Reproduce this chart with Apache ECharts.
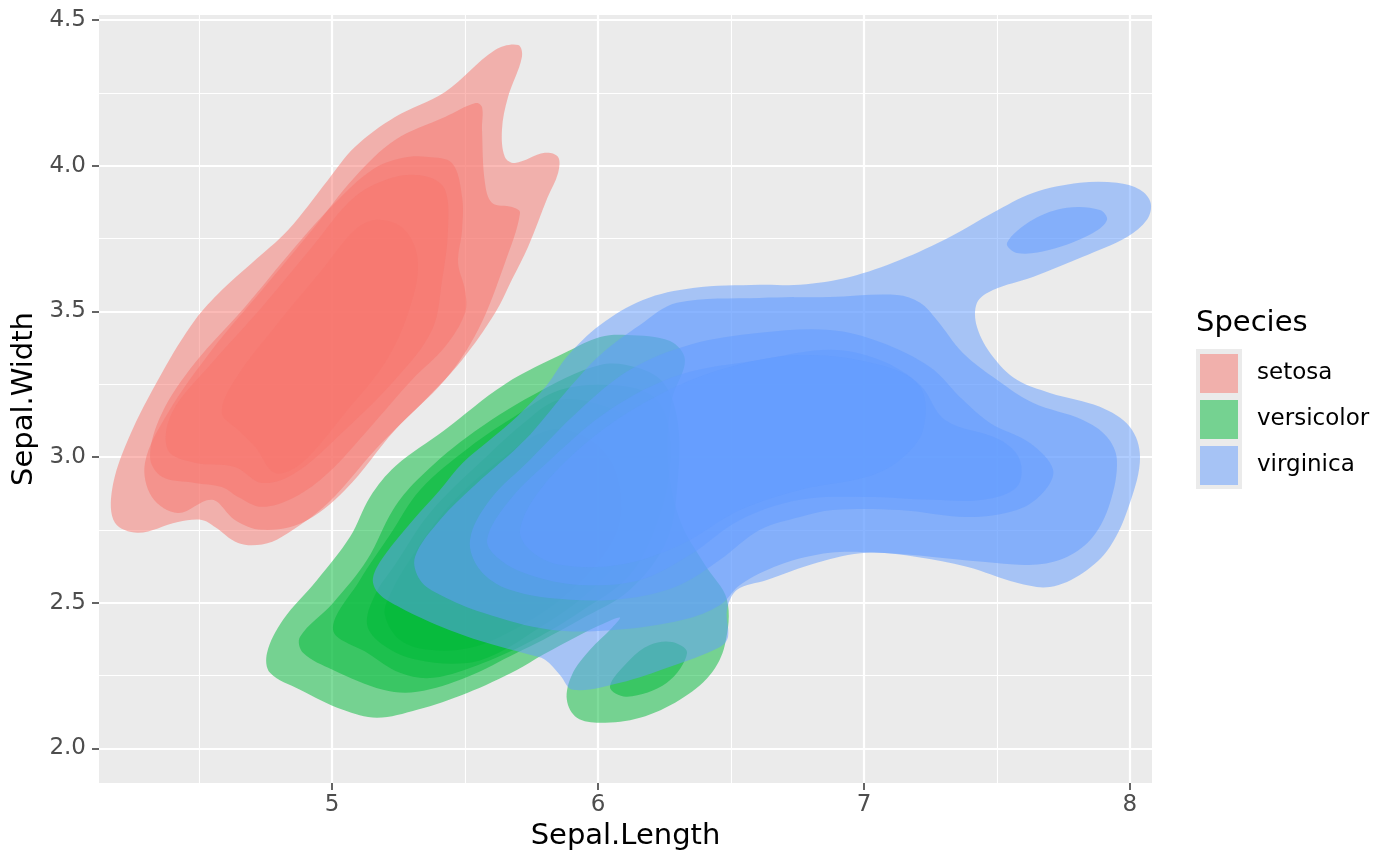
<!DOCTYPE html>
<html><head><meta charset="utf-8">
<script src="https://cdn.jsdelivr.net/npm/echarts@6/dist/echarts.min.js"></script>
<style>html,body{margin:0;padding:0;background:#fff}#c{width:1400px;height:866px}</style>
</head><body><div id="c"></div>
<script>
// ---- data (data units) ----
const species = ['setosa', 'versicolor', 'virginica'];
const speciesColors = ['#F8766D', '#00BA38', '#619CFF'];
const xTicks = [5, 6, 7, 8];
const xMinorTicks = [4.5, 5.5, 6.5, 7.5];
const yTicks = [2.0, 2.5, 3.0, 3.5, 4.0, 4.5];
const yMinorTicks = [2.25, 2.75, 3.25, 3.75, 4.25];

// setosa density contours (outer -> inner)
const setosaL1 = [[5.70,4.414],[5.613,4.397],[5.425,4.253],[5.237,4.167],[5.086,4.064],[4.985,3.951],[4.835,3.779],[4.699,3.666],[4.586,3.573],[4.485,3.47],[4.361,3.289],[4.233,3.059],[4.173,2.887],[4.184,2.774],[4.271,2.74],[4.421,2.777],[4.511,2.784],[4.56,2.76],[4.647,2.705],[4.737,2.70],[4.812,2.726],[4.985,2.842],[5.173,3.035],[5.361,3.206],[5.489,3.333],[5.613,3.494],[5.677,3.61],[5.737,3.721],[5.81,3.89],[5.85,3.975],[5.85,4.03],[5.80,4.044],[5.688,4.009],[5.65,4.03],[5.639,4.123],[5.662,4.236],[5.714,4.373]];
const setosaL2 = [[5.54,4.215],[5.425,4.167],[5.237,4.088],[5.086,3.961],[4.925,3.779],[4.737,3.573],[4.549,3.368],[4.383,3.151],[4.297,2.98],[4.323,2.863],[4.421,2.808],[4.549,2.853],[4.635,2.784],[4.737,2.75],[4.887,2.774],[5.049,2.887],[5.237,3.093],[5.425,3.265],[5.549,3.436],[5.65,3.666],[5.707,3.838],[5.677,3.858],[5.602,3.872],[5.575,3.941],[5.564,4.123],[5.564,4.201]];
const setosaL3 = [[5.361,4.03],[5.451,4.009],[5.489,3.893],[5.489,3.779],[5.474,3.666],[5.50,3.573],[5.50,3.494],[5.425,3.378],[5.301,3.265],[5.135,3.093],[4.985,2.945],[4.861,2.863],[4.737,2.829],[4.647,2.863],[4.586,2.897],[4.485,2.911],[4.361,2.932],[4.316,3.0],[4.361,3.151],[4.485,3.323],[4.673,3.515],[4.861,3.721],[5.011,3.872],[5.15,3.985],[5.263,4.026]];
const setosaL4 = [[5.361,3.961],[5.425,3.917],[5.436,3.779],[5.414,3.608],[5.376,3.436],[5.237,3.265],[5.049,3.093],[4.861,2.945],[4.737,2.911],[4.635,2.966],[4.485,2.98],[4.383,3.024],[4.398,3.151],[4.549,3.323],[4.737,3.515],[4.925,3.721],[5.086,3.893],[5.237,3.961]];
const setosaL5 = [[5.173,3.814],[5.274,3.779],[5.323,3.666],[5.286,3.494],[5.199,3.323],[5.049,3.151],[4.887,2.98],[4.786,2.945],[4.711,3.035],[4.647,3.093],[4.586,3.151],[4.635,3.265],[4.797,3.46],[4.962,3.642],[5.086,3.779]];

// versicolor density contours
const versicolorL1 = [[4.756,2.328],[4.767,2.259],[4.88,2.201],[5.041,2.132],[5.169,2.105],[5.32,2.132],[5.508,2.19],[5.695,2.269],[5.793,2.321],[5.932,2.389],[6.053,2.441],[6.083,2.448],[6.053,2.414],[5.97,2.338],[5.902,2.252],[5.883,2.167],[5.921,2.105],[6.008,2.088],[6.158,2.105],[6.308,2.167],[6.421,2.252],[6.477,2.355],[6.485,2.51],[6.402,2.63],[6.308,2.784],[6.263,2.99],[6.278,3.196],[6.327,3.333],[6.271,3.398],[6.109,3.419],[6.008,3.412],[5.883,3.361],[5.65,3.25],[5.42,3.09],[5.24,2.97],[5.143,2.863],[5.068,2.726],[4.944,2.578],[4.816,2.441]];
const versicolorL2 = [[4.88,2.383],[4.891,2.328],[5.004,2.269],[5.192,2.201],[5.32,2.194],[5.508,2.245],[5.695,2.328],[5.793,2.372],[5.932,2.441],[6.12,2.544],[6.26,2.716],[6.30,2.92],[6.30,3.12],[6.25,3.25],[6.15,3.306],[6.008,3.316],[5.756,3.213],[5.508,3.069],[5.32,2.921],[5.229,2.818],[5.132,2.647],[5.004,2.499]];
const versicolorL2b = [[6.045,2.211],[6.109,2.177],[6.259,2.225],[6.335,2.328],[6.278,2.365],[6.195,2.355],[6.12,2.304]];
const versicolorL3 = [[5.004,2.407],[5.132,2.328],[5.256,2.259],[5.38,2.242],[5.568,2.293],[5.756,2.372],[5.932,2.468],[6.12,2.595],[6.22,2.767],[6.27,2.956],[6.26,3.127],[6.2,3.213],[6.045,3.247],[5.857,3.23],[5.695,3.144],[5.519,3.035],[5.331,2.887],[5.218,2.733],[5.105,2.578]];
const versicolorL4 = [[5.132,2.424],[5.192,2.355],[5.32,2.304],[5.508,2.293],[5.632,2.331],[5.756,2.40],[5.932,2.51],[6.083,2.647],[6.195,2.818],[6.233,2.99],[6.158,3.11],[6.008,3.179],[5.857,3.196],[5.744,3.134],[5.556,2.98],[5.368,2.808],[5.237,2.63],[5.162,2.527]];
const versicolorL5 = [[5.199,2.458],[5.256,2.372],[5.368,2.338],[5.519,2.345],[5.669,2.40],[5.857,2.51],[6.008,2.647],[6.083,2.784],[6.064,2.956],[5.97,3.059],[5.82,3.093],[5.632,2.99],[5.444,2.836],[5.293,2.647],[5.218,2.527]];

// virginica density contours
const virginicaL1 = [[5.154,2.585],[5.199,2.664],[5.305,2.784],[5.406,2.887],[5.492,2.98],[5.594,3.059],[5.695,3.138],[5.808,3.247],[5.883,3.344],[6.008,3.453],[6.169,3.539],[6.357,3.58],[6.609,3.591],[6.759,3.591],[6.947,3.618],[7.135,3.676],[7.323,3.755],[7.485,3.838],[7.635,3.906],[7.812,3.941],[7.951,3.941],[8.038,3.917],[8.078,3.872],[8.064,3.814],[7.989,3.755],[7.823,3.687],[7.635,3.618],[7.485,3.573],[7.425,3.529],[7.425,3.446],[7.485,3.344],[7.575,3.265],[7.699,3.22],[7.887,3.172],[8.0,3.103],[8.038,3.0],[8.0,2.842],[7.925,2.692],[7.823,2.602],[7.699,2.554],[7.575,2.568],[7.387,2.623],[7.199,2.657],[7.011,2.671],[6.823,2.637],[6.635,2.578],[6.523,2.544],[6.485,2.475],[6.489,2.383],[6.459,2.348],[6.271,2.28],[6.083,2.225],[5.906,2.201],[5.857,2.252],[5.801,2.304],[5.744,2.321],[5.556,2.369],[5.368,2.434],[5.244,2.489],[5.173,2.534]];
const virginicaL2 = [[5.312,2.657],[5.406,2.784],[5.538,2.904],[5.726,3.059],[5.876,3.22],[6.008,3.35],[6.158,3.453],[6.297,3.529],[6.609,3.546],[6.872,3.549],[7.124,3.556],[7.211,3.529],[7.274,3.47],[7.372,3.357],[7.5,3.265],[7.635,3.186],[7.823,3.127],[7.914,3.069],[7.951,2.99],[7.925,2.842],[7.861,2.726],[7.763,2.657],[7.635,2.63],[7.447,2.64],[7.259,2.657],[7.06,2.671],[6.872,2.671],[6.684,2.63],[6.534,2.561],[6.459,2.492],[6.32,2.441],[6.071,2.407],[5.82,2.407],[5.568,2.465],[5.406,2.527],[5.331,2.578]];
const virginicaL2b = [[7.538,3.735],[7.635,3.814],[7.763,3.855],[7.887,3.848],[7.914,3.814],[7.861,3.769],[7.699,3.711],[7.575,3.70]];
const virginicaL3 = [[5.519,2.716],[5.594,2.853],[5.744,2.99],[5.932,3.162],[6.12,3.299],[6.346,3.385],[6.609,3.426],[6.872,3.436],[7.06,3.395],[7.248,3.309],[7.372,3.196],[7.474,3.117],[7.624,3.048],[7.711,2.956],[7.673,2.877],[7.575,2.818],[7.387,2.794],[7.135,2.818],[6.883,2.818],[6.759,2.794],[6.609,2.75],[6.459,2.647],[6.308,2.561],[6.12,2.516],[5.895,2.51],[5.669,2.544],[5.556,2.613]];
const virginicaL4 = [[5.583,2.716],[5.669,2.853],[5.82,2.99],[6.045,3.162],[6.308,3.282],[6.609,3.333],[6.872,3.368],[7.06,3.333],[7.211,3.247],[7.305,3.127],[7.511,3.059],[7.586,2.99],[7.575,2.897],[7.447,2.853],[7.259,2.853],[7.011,2.863],[6.759,2.853],[6.534,2.784],[6.346,2.664],[6.158,2.578],[5.932,2.561],[5.744,2.595],[5.632,2.647]];
const virginicaL5 = [[5.707,2.75],[5.782,2.887],[5.97,3.059],[6.195,3.196],[6.459,3.299],[6.759,3.35],[7.06,3.316],[7.211,3.241],[7.222,3.093],[7.135,2.99],[7.011,2.932],[6.759,2.887],[6.534,2.818],[6.308,2.698],[6.083,2.63],[5.857,2.63],[5.744,2.681]];

const setosaContours = [setosaL1, setosaL2, setosaL3, setosaL4, setosaL5];
const versicolorContours = [versicolorL1, versicolorL2, versicolorL2b, versicolorL3, versicolorL4, versicolorL5];
const virginicaContours = [virginicaL1, virginicaL2, virginicaL2b, virginicaL3, virginicaL4, virginicaL5];
const contoursBySpecies = [setosaContours, versicolorContours, virginicaContours];

// ---- rendering ----
const FONT = 'DejaVu Sans';
function rgba(hex, a) {
  const n = parseInt(hex.slice(1), 16);
  return 'rgba(' + (n >> 16 & 255) + ',' + (n >> 8 & 255) + ',' + (n & 255) + ',' + a + ')';
}
function contourSeries(name, color, polys) {
  const fill = rgba(color, 0.5);
  return {
    type: 'custom', name: name, coordinateSystem: 'cartesian2d',
    xAxisIndex: 0, yAxisIndex: 0, clip: true, silent: true,
    itemStyle: { color: fill },
    data: polys.map(function (p) { return [p[0][0], p[0][1]]; }),
    renderItem: function (params, api) {
      const pts = polys[params.dataIndex].map(function (pt) { return api.coord(pt); });
      return { type: 'polygon', shape: { points: pts, smooth: 0.35 }, style: { fill: fill, stroke: null } };
    }
  };
}

const XMIN = 4.124, XMAX = 8.083, YMIN = 1.881, YMAX = 4.517;
const chart = echarts.init(document.getElementById('c'), null, { renderer: 'canvas' });
chart.setOption({
  animation: false,
  backgroundColor: '#FFFFFF',
  textStyle: { fontFamily: FONT },
  title: { text: 'Species', left: 1196, top: 309, padding: 0,
    textStyle: { fontSize: 29, fontWeight: 'normal', color: '#000', fontFamily: FONT } },
  grid: { left: 99, right: 248, top: 15, bottom: 83, show: true, backgroundColor: '#EBEBEB', borderWidth: 0 },
  legend: {
    orient: 'vertical', left: 1200, top: 354, itemWidth: 38, itemHeight: 39, itemGap: 7,
    icon: 'rect', selectedMode: false, padding: 0,
    data: species,
    textStyle: { fontSize: 23, color: '#000', fontFamily: FONT, padding: [0, 0, 0, 14] }
  },
  graphic: [{ type: 'rect', z: 0, shape: { x: 1196, y: 349, width: 46, height: 140 }, style: { fill: '#EBEBEB' } }],
  xAxis: [
    { type: 'value', min: XMIN, max: XMAX, position: 'bottom',
      name: 'Sepal.Length', nameLocation: 'middle', nameGap: 39,
      nameTextStyle: { fontSize: 29, color: '#000', fontFamily: FONT },
      axisLine: { show: false },
      axisTick: { show: true, customValues: xTicks, length: 7, lineStyle: { color: '#333333', width: 1.5 } },
      axisLabel: { customValues: xTicks, color: '#4D4D4D', fontSize: 23, fontFamily: FONT, margin: 11,
        formatter: function (v) { return String(v); } },
      splitLine: { show: true, lineStyle: { color: '#FFFFFF', width: 2.2 } } },
    { type: 'value', min: XMIN, max: XMAX, position: 'bottom',
      axisLine: { show: false }, axisLabel: { show: false },
      axisTick: { show: false, customValues: xMinorTicks },
      splitLine: { show: true, lineStyle: { color: '#FFFFFF', width: 1.1 } } }
  ],
  yAxis: [
    { type: 'value', min: YMIN, max: YMAX, position: 'left',
      name: 'Sepal.Width', nameLocation: 'middle', nameGap: 56, nameRotate: 90,
      nameTextStyle: { fontSize: 29, color: '#000', fontFamily: FONT },
      axisLine: { show: false },
      axisTick: { show: true, customValues: yTicks, length: 7, lineStyle: { color: '#333333', width: 1.5 } },
      axisLabel: { customValues: yTicks, color: '#4D4D4D', fontSize: 23, fontFamily: FONT, margin: 13,
        formatter: function (v) { return v.toFixed(1); } },
      splitLine: { show: true, lineStyle: { color: '#FFFFFF', width: 2.2 } } },
    { type: 'value', min: YMIN, max: YMAX, position: 'left',
      axisLine: { show: false }, axisLabel: { show: false },
      axisTick: { show: false, customValues: yMinorTicks },
      splitLine: { show: true, lineStyle: { color: '#FFFFFF', width: 1.1 } } }
  ],
  series: species.map(function (s, i) { return contourSeries(s, speciesColors[i], contoursBySpecies[i]); })
});
</script>
</body></html>
